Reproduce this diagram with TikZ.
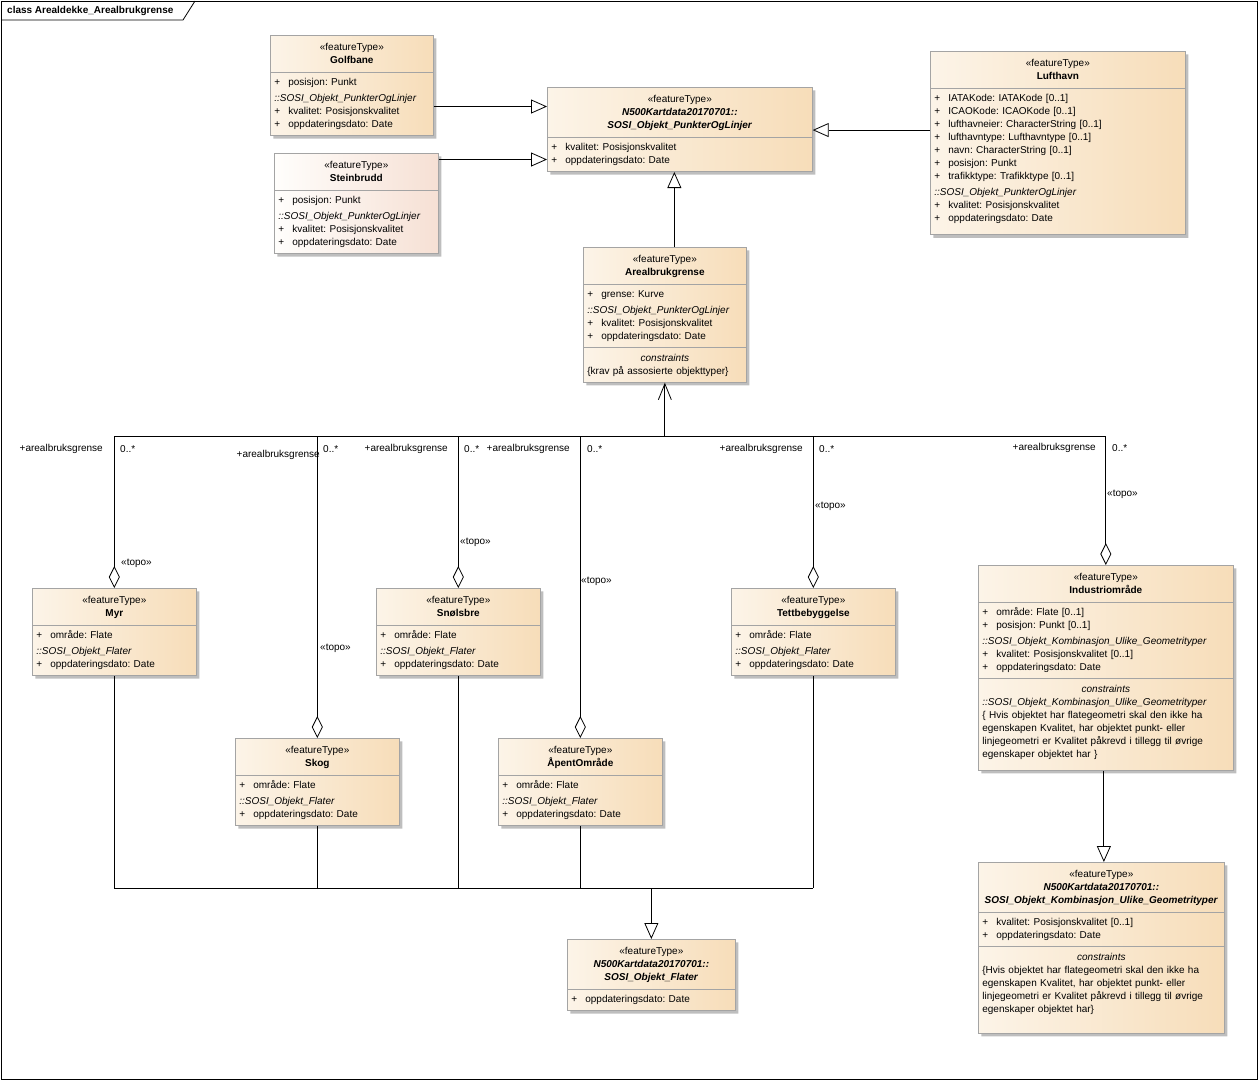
\documentclass[tikz,border=0pt]{standalone}
\usepackage{fontspec}
\setmainfont{Liberation Sans}
\usetikzlibrary{shapes.multipart, shadows, arrows.meta}

\definecolor{classlight}{HTML}{FCF4E8}
\definecolor{classdark}{HTML}{F7DDB9}
\definecolor{pinklight}{HTML}{FFFEFC}
\definecolor{pinkdark}{HTML}{F6E0D4}
\definecolor{classline}{HTML}{A4A4A4}
\definecolor{shadowgray}{HTML}{BEBEBE}

\newcommand{\umlfont}{\fontsize{10}{13}\selectfont\frenchspacing}
\newcommand{\stereo}{\rule{0pt}{11pt}\makebox[\hsize]{«featureType»}}
\newcommand{\cname}[1]{\strut\makebox[\hsize]{\textbf{#1}}}
\newcommand{\aname}[1]{\strut\makebox[\hsize]{\textbf{\textit{#1}}}}
\newcommand{\pl}{\strut\makebox[14pt][l]{+}}
\newcommand{\grp}[1]{\strut\textit{::#1}}
\newcommand{\cons}{\strut\makebox[\hsize]{\textit{constraints}}}
\newcommand{\deep}{\rule[-9pt]{0pt}{9pt}}

\begin{document}
\begin{tikzpicture}[x=1pt, y=-1pt,
  % class boxes: header + attributes (+ constraints)
  umlclass/.style={rectangle split, rectangle split parts=2, draw=classline,
                   line width=0.7pt, left color=classlight, right color=classdark,
                   drop shadow={shadow xshift=3pt, shadow yshift=-3pt, fill=shadowgray, opacity=1},
                   inner xsep=4pt, inner ysep=4pt, font=\umlfont, anchor=north west},
  umlcons/.style={umlclass, rectangle split parts=3},
  pinkclass/.style={umlclass, left color=pinklight, right color=pinkdark},
  % connectors
  line/.style={draw=black, line width=0.8pt},
  gen/.style={line, -{Triangle[fill=white, length=16pt, width=14pt]}},
  aggr/.style={line, -{Diamond[fill=white, length=22pt, width=11pt]}},
  nav/.style={line, -{Straight Barb[length=16pt, width=13pt]}},
  lbl/.style={font=\umlfont, inner sep=2pt}
]
  \useasboundingbox (0,0) rectangle (1258,1080);

  % Frame and title tab
  \draw[line] (1,1) rectangle (1257,1079);
  \draw[line] (1,20) -- (183,20) -- (195,1);
  \node[lbl, anchor=west, font=\umlfont\bfseries] (title) at (5,11) {class Arealdekke\_Arealbrukgrense};

  % Top row
  \node[umlclass, text width=155pt] (golf) at (270,35)
    {\stereo\\\cname{Golfbane}
     \nodepart{two}\pl posisjon: Punkt\\[3pt]\grp{SOSI\_Objekt\_PunkterOgLinjer}\\\pl kvalitet: Posisjonskvalitet\\\pl oppdateringsdato: Date};
  \node[pinkclass, text width=156pt] (stein) at (274,153)
    {\stereo\\\cname{Steinbrudd}
     \nodepart{two}\pl posisjon: Punkt\\[3pt]\grp{SOSI\_Objekt\_PunkterOgLinjer}\\\pl kvalitet: Posisjonskvalitet\\\pl oppdateringsdato: Date};
  \node[umlclass, text width=257pt] (punkt) at (547,87)
    {\stereo\\\aname{N500Kartdata20170701::}\\\aname{SOSI\_Objekt\_PunkterOgLinjer}
     \nodepart{two}\pl kvalitet: Posisjonskvalitet\\\pl oppdateringsdato: Date};
  \node[umlclass, text width=247pt] (luft) at (930,51)
    {\stereo\\\cname{Lufthavn}
     \nodepart{two}\pl IATAKode: IATAKode [0..1]\\\pl ICAOKode: ICAOKode [0..1]\\\pl lufthavneier: CharacterString [0..1]\\\pl lufthavntype: Lufthavntype [0..1]\\\pl navn: CharacterString [0..1]\\\pl posisjon: Punkt\\\pl trafikktype: Trafikktype [0..1]\\[3pt]\grp{SOSI\_Objekt\_PunkterOgLinjer}\\\pl kvalitet: Posisjonskvalitet\\\pl oppdateringsdato: Date\deep};

  % Centre
  \node[umlcons, text width=155pt] (areal) at (583,247)
    {\stereo\\\cname{Arealbrukgrense}
     \nodepart{two}\pl grense: Kurve\\[3pt]\grp{SOSI\_Objekt\_PunkterOgLinjer}\\\pl kvalitet: Posisjonskvalitet\\\pl oppdateringsdato: Date
     \nodepart{three}\cons\\\strut\{krav på assosierte objekttyper\}};

  % Area classes
  \node[umlclass, text width=156pt] (myr) at (32,588)
    {\stereo\\\cname{Myr}
     \nodepart{two}\pl område: Flate\\[3pt]\grp{SOSI\_Objekt\_Flater}\\\pl oppdateringsdato: Date};
  \node[umlclass, text width=156pt] (skog) at (235,738)
    {\stereo\\\cname{Skog}
     \nodepart{two}\pl område: Flate\\[3pt]\grp{SOSI\_Objekt\_Flater}\\\pl oppdateringsdato: Date};
  \node[umlclass, text width=156pt] (snoe) at (376,588)
    {\stereo\\\cname{Snølsbre}
     \nodepart{two}\pl område: Flate\\[3pt]\grp{SOSI\_Objekt\_Flater}\\\pl oppdateringsdato: Date};
  \node[umlclass, text width=156pt] (apent) at (498,738)
    {\stereo\\\cname{ÅpentOmråde}
     \nodepart{two}\pl område: Flate\\[3pt]\grp{SOSI\_Objekt\_Flater}\\\pl oppdateringsdato: Date};
  \node[umlclass, text width=156pt] (tett) at (731,588)
    {\stereo\\\cname{Tettbebyggelse}
     \nodepart{two}\pl område: Flate\\[3pt]\grp{SOSI\_Objekt\_Flater}\\\pl oppdateringsdato: Date};
  \node[umlcons, text width=247pt] (indu) at (978,565)
    {\stereo\\\cname{Industriområde}
     \nodepart{two}\pl område: Flate [0..1]\\\pl posisjon: Punkt [0..1]\\[3pt]\grp{SOSI\_Objekt\_Kombinasjon\_Ulike\_Geometrityper}\\\pl kvalitet: Posisjonskvalitet [0..1]\\\pl oppdateringsdato: Date
     \nodepart{three}\cons\\\grp{SOSI\_Objekt\_Kombinasjon\_Ulike\_Geometrityper}\\\strut\{ Hvis objektet har flategeometri skal den ikke ha\\\strut egenskapen Kvalitet, har objektet punkt- eller\\\strut linjegeometri er Kvalitet påkrevd i tillegg til øvrige\\\strut egenskaper objektet har \}\deep};

  % Abstract supertypes at the bottom
  \node[umlclass, text width=160pt] (flater) at (567,939)
    {\stereo\\\aname{N500Kartdata20170701::}\\\aname{SOSI\_Objekt\_Flater}
     \nodepart{two}\pl oppdateringsdato: Date};
  \node[umlcons, text width=238pt] (komb) at (978,862)
    {\stereo\\\aname{N500Kartdata20170701::}\\\aname{SOSI\_Objekt\_Kombinasjon\_Ulike\_Geometrityper}
     \nodepart{two}\pl kvalitet: Posisjonskvalitet [0..1]\\\pl oppdateringsdato: Date
     \nodepart{three}\cons\\\strut\{Hvis objektet har flategeometri skal den ikke ha\\\strut egenskapen Kvalitet, har objektet punkt- eller\\\strut linjegeometri er Kvalitet påkrevd i tillegg til øvrige\\\strut egenskaper objektet har\}\\\strut};

  % --- Generalisations into SOSI_Objekt_PunkterOgLinjer ---
  \draw[gen] ([yshift=-21pt]golf.east) -- ([yshift=-21pt]golf.east -| punkt.west);
  \draw[gen] ([yshift=44pt]stein.east) -- ([yshift=44pt]stein.east -| punkt.west);
  \draw[gen] ([yshift=13pt]luft.west) -- ([yshift=13pt]luft.west -| punkt.east);
  \draw[gen] ([xshift=9.5pt]areal.north) -- ([xshift=9.5pt]areal.north |- punkt.south);

  % --- Associations from the area classes to Arealbrukgrense ---
  \coordinate (assocbus) at (0,436);
  \draw[line] (myr.north |- assocbus) -- (indu.north |- assocbus);
  \draw[nav] (areal.south |- assocbus) -- (areal.south);
  \foreach \c in {myr, skog, snoe, apent, tett, indu}
    \draw[aggr] (\c.north |- assocbus) -- (\c.north);

  % role names, multiplicities and stereotypes
  \node[lbl, anchor=east] (rolemyr)   at (105,449)  {+arealbruksgrense};
  \node[lbl, anchor=west] (multmyr)   at (118,449)  {0..*};
  \node[lbl, anchor=west] (topomyr)   at (119,563)  {«topo»};
  \node[lbl, anchor=east] (roleskog)  at (322,455)  {+arealbruksgrense};
  \node[lbl, anchor=west] (multskog)  at (321,449)  {0..*};
  \node[lbl, anchor=west] (toposkog)  at (318,648)  {«topo»};
  \node[lbl, anchor=east] (rolesnoe)  at (450,449)  {+arealbruksgrense};
  \node[lbl, anchor=west] (multsnoe)  at (462,449)  {0..*};
  \node[lbl, anchor=west] (toposnoe)  at (458,542)  {«topo»};
  \node[lbl, anchor=east] (roleapent) at (572,449)  {+arealbruksgrense};
  \node[lbl, anchor=west] (multapent) at (585,449)  {0..*};
  \node[lbl, anchor=west] (topoapent) at (579,581)  {«topo»};
  \node[lbl, anchor=east] (roletett)  at (805,449)  {+arealbruksgrense};
  \node[lbl, anchor=west] (multtett)  at (817,449)  {0..*};
  \node[lbl, anchor=west] (topotett)  at (813,506)  {«topo»};
  \node[lbl, anchor=east] (roleindu)  at (1098,448) {+arealbruksgrense};
  \node[lbl, anchor=west] (multindu)  at (1110,448) {0..*};
  \node[lbl, anchor=west] (topoindu)  at (1105,494) {«topo»};

  % --- Generalisations into SOSI_Objekt_Flater ---
  \coordinate (genbus) at (0,888);
  \foreach \c in {myr, skog, snoe, apent, tett}
    \draw[line] (\c.south) -- (\c.south |- genbus);
  \draw[line] (myr.south |- genbus) -- (tett.south |- genbus);
  \draw[gen] (flater.north |- genbus) -- (flater.north);

  % Industriområde into SOSI_Objekt_Kombinasjon_Ulike_Geometrityper
  \draw[gen] ([xshift=-2pt]indu.south) -- ([xshift=-2pt]indu.south |- komb.north);
\end{tikzpicture}
\end{document}
